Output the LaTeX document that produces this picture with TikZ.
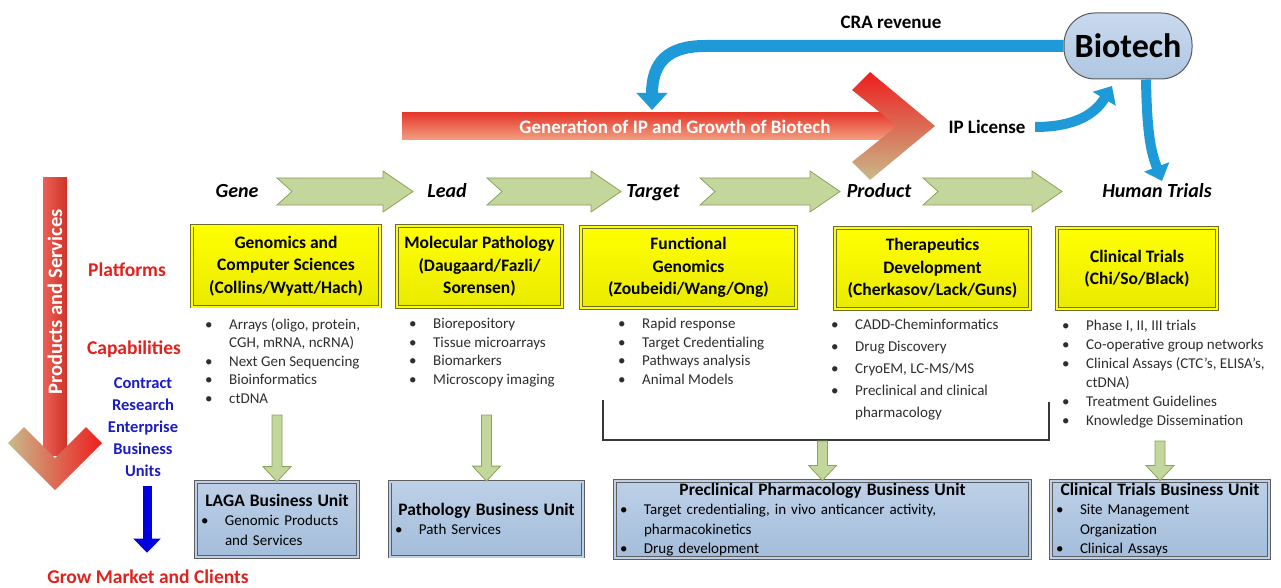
\documentclass[tikz,border=0pt]{standalone}
\usepackage{fontspec}
\setmainfont{Carlito}
\usetikzlibrary{arrows.meta,calc}
\definecolor{yel}{HTML}{FFFF00}
\definecolor{yeldark}{HTML}{EAEA00}
\definecolor{yelline}{HTML}{6E6E2C}
\definecolor{unitfill}{HTML}{BDD0E7}
\definecolor{unitdark}{HTML}{A3BDDB}
\definecolor{unitline}{HTML}{5E5E5E}
\definecolor{stagefill}{HTML}{C3D69B}
\definecolor{stageline}{HTML}{8CA35A}
\definecolor{flowblue}{HTML}{1F9AD8}
\definecolor{redtxt}{HTML}{E2211C}
\definecolor{bluetxt}{HTML}{1C1CC4}
\definecolor{growblue}{HTML}{0000E0}
\definecolor{ipred}{HTML}{E6392C}
\definecolor{ippeach}{HTML}{F2A081}
\definecolor{headred}{HTML}{EE1E1E}
\definecolor{headtan}{HTML}{C9B98A}
\definecolor{biotop}{HTML}{C9DAEE}
\definecolor{biobot}{HTML}{AFC6E2}

\newcommand{\sz}[2]{\fontsize{#1}{#2}\selectfont}
\newcommand{\bul}{\makebox[24pt][l]{\textbullet}}
\newcommand{\cont}{\hspace*{24pt}}

% notched green arrow on the stage row, from x=#1 to tip x=#2
\newcommand{\stagearrow}[2]{%
  \path[stage] (#1,178) -- (#2-30,178) -- (#2-30,171) -- (#2,191.5) -- (#2-30,212)
    -- (#2-30,205) -- (#1,205) -- (#1+15,191.5) -- cycle;}
% short green block arrow pointing down, from #1 to its tip #2
\newcommand{\feedarrow}[2]{%
  \path[feed] ($(#1)+(-5,0)$) -- ($(#2)+(-5,-15)$) -- ($(#2)+(-14,-15)$) -- (#2)
    -- ($(#2)+(14,-15)$) -- ($(#2)+(5,-15)$) -- ($(#1)+(5,0)$) -- cycle;}

\tikzset{
  stage/.style={fill=stagefill, draw=stageline, line width=0.8pt},
  feed/.style={fill=stagefill, draw=stageline, line width=0.8pt},
  platform/.style={draw=yelline, double=yel, double distance=2pt, line width=0.9pt,
    top color=yel, bottom color=yeldark, minimum height=81pt, align=center,
    inner sep=2pt, font=\sz{17.5}{22.5}\bfseries},
  unit/.style={draw=unitline, double=unitfill, double distance=2pt, line width=0.8pt,
    top color=unitfill, bottom color=unitdark, minimum height=75pt,
    inner xsep=5pt, inner ysep=2pt, align=left, font=\sz{15}{19.5}},
  caplist/.style={anchor=north west, inner sep=0pt, align=left, text=black!82, font=\sz{15}{18.5}},
  stagelab/.style={text height=14pt, text depth=4pt, font=\sz{20}{24}\bfseries\itshape},
  redlab/.style={text=redtxt, font=\sz{19.5}{23}\bfseries},
  bluelab/.style={text=bluetxt, font=\sz{16.5}{22}\bfseries, align=center},
  toplab/.style={font=\sz{19}{23}\bfseries},
  flow/.style={draw=flowblue, line width=12pt, -{Triangle[width=30pt,length=17pt]}},
  growarrow/.style={draw=growblue, line width=9pt, -{Triangle[width=27pt,length=14pt]}},
  bracket/.style={draw=black!78, line width=2.4pt},
}

\begin{document}
\begin{tikzpicture}[x=1pt,y=-1pt]
  \useasboundingbox (0,0) rectangle (1281,588);

  % IP growth arrow along the top
  \shade[top color=ipred, bottom color=ippeach] (402,113) rectangle (906,140);
  \shade[top color=headred, bottom color=headtan]
    (870,72) -- (935,126) -- (870,180) -- (852,162) -- (897,126) -- (852,90) -- cycle;
  \node[text=white, font=\sz{19}{23}\bfseries] (gen) at (675,127) {Generation of IP and Growth of Biotech};

  % products and services arrow on the left
  \shade[left color=ipred!80!white, right color=ipred!90!black] (43,178) rectangle (67,455);
  \shade[left color=headtan, right color=headred]
    (8,443) -- (24,427) -- (55,458) -- (86,427) -- (102,443) -- (55,490) -- cycle;
  \node[rotate=90, text=white, font=\sz{20.5}{24}\bfseries] (prodserv) at (55,302) {Products and Services};

  \node[draw=black!65, line width=1pt, rounded corners=31pt, top color=biotop, bottom color=biobot,
    minimum width=128pt, minimum height=66pt, font=\sz{34}{38}\bfseries] (bio) at (1128,46) {Biotech};
  \node[toplab] (cra) at (891,22) {CRA revenue};
  \node[toplab] (ip) at (987,127) {IP License};

  \draw[flow] (bio.west) -- (705,46) .. controls (668,46) and (652,62) .. (652,110);
  \draw[flow, line width=10pt, -{Triangle[width=26pt,length=15pt]}]
    ([xshift=6pt]ip.east) .. controls (1075,127) and (1095,114) .. (1112,86);
  \draw[flow, line width=10pt, -{Triangle[width=26pt,length=15pt]}]
    ([xshift=18pt]bio.south) .. controls (1147,135) and (1151,152) .. (1162,181);

  % stages
  \node[stagelab] (gene) at (237,192) {Gene};
  \node[stagelab] (lead) at (447,192) {Lead};
  \node[stagelab] (target) at (653,192) {Target};
  \node[stagelab] (product) at (879,192) {Product};
  \node[stagelab] (trials) at (1157,192) {Human Trials};
  \foreach \a/\b in {277/413, 487/621, 700/840, 923/1062}
    {\stagearrow{\a}{\b}}

  % row labels
  \node[redlab] (plat) at (127,270) {Platforms};
  \node[redlab] (capab) at (134,349) {Capabilities};
  \node[bluelab] (cre) at (143,427) {Contract\\Research\\Enterprise\\Business\\Units};
  \node[redlab] (market) at (148,577) {Grow Market and Clients};
  \draw[growarrow] ([xshift=4pt,yshift=-6pt]cre.south) -- ([xshift=-1pt,yshift=14pt]market.north);

  % platforms
  \node[platform, minimum width=188pt] (gcs) at (286,266) {Genomics and\\Computer Sciences\\(Collins/Wyatt/Hach)};
  \node[platform, minimum width=165pt] (molp) at (479.5,266.5) {Molecular Pathology\\(Daugaard/Fazli/\\Sorensen)};
  \node[platform, minimum width=215pt] (fgen) at (688.5,267.5) {Functional\\Genomics\\(Zoubeidi/Wang/Ong)};
  \node[platform, minimum width=195pt] (ther) at (932.5,268.5) {Therapeutics\\Development\\(Cherkasov/Lack/Guns)};
  \node[platform, minimum width=160pt] (clin) at (1137,268.5) {Clinical Trials\\(Chi/So/Black)};

  % capabilities
  \node[caplist] (l1) at (205,318) {\bul Arrays (oligo, protein,\\\cont CGH, mRNA, ncRNA)\\\bul Next Gen Sequencing\\\bul Bioinformatics\\\bul ctDNA};
  \node[caplist] (l2) at (409,318) {\bul Biorepository\\\bul Tissue microarrays\\\bul Biomarkers\\\bul Microscopy imaging};
  \node[caplist] (l3) at (618,318) {\bul Rapid response\\\bul Target Credentialing\\\bul Pathways analysis\\\bul Animal Models};
  \node[caplist, font=\sz{15}{22}] (l4) at (831,319) {\bul CADD-Cheminformatics\\\bul Drug Discovery\\\bul CryoEM, LC-MS/MS\\\bul Preclinical and clinical\\\cont pharmacology};
  \node[caplist, font=\sz{15}{19}] (l5) at (1062,320) {\bul Phase I, II, III trials\\\bul Co-operative group networks\\\bul Clinical Assays (CTC’s, ELISA’s,\\\cont ctDNA)\\\bul Treatment Guidelines\\\bul Knowledge Dissemination};
  \draw[bracket] (603,400) |- (1049,440) -- (1049,402);

  % business units
  \node[unit, text width=152pt] (laga) at (277,519.5) {\makebox[\linewidth]{\sz{17.5}{20}\bfseries LAGA Business Unit}\\\bul Genomic Products\\\cont and Services};
  \node[unit, text width=183pt] (pathbu) at (486.5,519) {\makebox[\linewidth]{\sz{17.5}{20}\bfseries Pathology Business Unit}\\\bul Path Services};
  \node[unit, text width=405pt] (precl) at (822.5,519.5) {\makebox[\linewidth]{\sz{17.5}{20}\bfseries Preclinical Pharmacology Business Unit}\\\bul Target credentialing, in vivo anticancer activity,\\\cont pharmacokinetics\\\bul Drug development};
  \node[unit, text width=208pt] (ctbu) at (1160,519.5) {\makebox[\linewidth]{\sz{17.5}{20}\bfseries Clinical Trials Business Unit}\\\bul Site Management\\\cont Organization\\\bul Clinical Assays};

  \feedarrow{laga.north |- 0,415}{laga.north}
  \feedarrow{pathbu.north |- 0,415}{pathbu.north}
  \feedarrow{precl.north |- 0,441}{precl.north}
  \feedarrow{ctbu.north |- 0,441}{ctbu.north}
\end{tikzpicture}
\end{document}
